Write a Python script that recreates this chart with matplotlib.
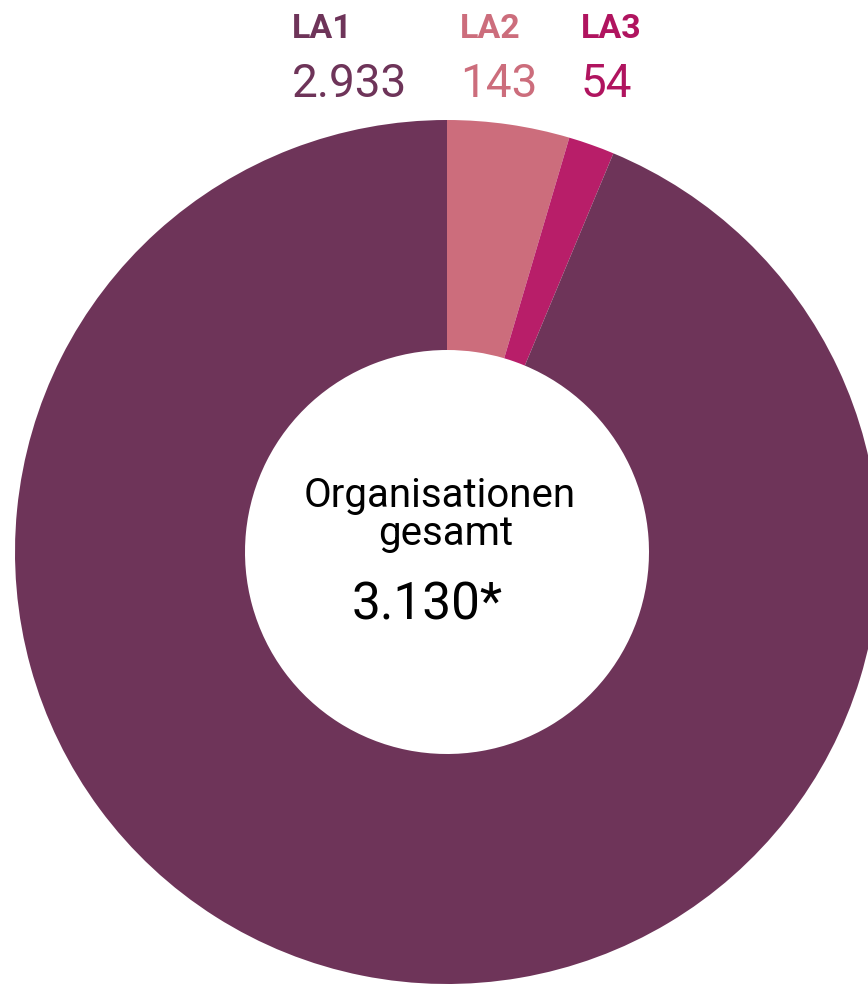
import matplotlib
matplotlib.use("Agg")
import matplotlib.pyplot as plt

# data (clockwise from 12 o'clock)
labels = ["LA2", "LA3", "LA1"]
values = [143, 54, 2933]
colors = ["#CC6D7C", "#B81E69", "#6E3459"]
total_label = "3.130*"

# header order as in the picture
head_names = ["LA1", "LA2", "LA3"]
head_values = ["2.933", "143", "54"]
head_colors = ["#6E3459", "#CC6D7C", "#B0145F"]
head_x = [292, 460, 581]

W, H = 868, 984
plt.rcParams["font.family"] = ["Roboto", "DejaVu Sans"]

fig = plt.figure(figsize=(W / 100, H / 100), dpi=100)
ax = fig.add_axes([0, 0, 1, 1])

R = 432
ax.pie(values, colors=colors, startangle=90, counterclock=False,
       center=(447, H - 552), radius=R,
       wedgeprops=dict(width=R - 202, linewidth=0))
ax.set_xlim(0, W)
ax.set_ylim(0, H)
ax.set_aspect("equal")
ax.axis("off")

for name, val, col, x in zip(head_names, head_values, head_colors, head_x):
    ax.text(x, H - 38, name, color=col, fontsize=24.5, fontweight="bold",
            ha="left", va="baseline")
    ax.text(x, H - 97, val, color=col, fontsize=33, fontweight="normal",
            ha="left", va="baseline")

ax.text(440, H - 507, "Organisationen", fontsize=29, ha="center", va="baseline", color="black")
ax.text(446, H - 545, "gesamt", fontsize=29, ha="center", va="baseline", color="black")
ax.text(427, H - 620, total_label, fontsize=37, ha="center", va="baseline", color="black")

fig.savefig("out.png", dpi=100)
